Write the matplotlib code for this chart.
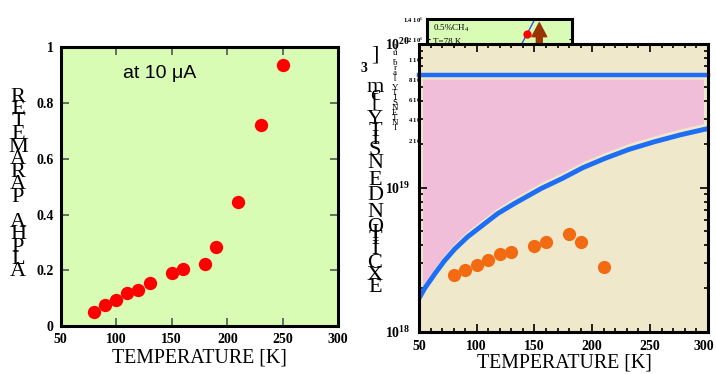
import matplotlib
matplotlib.use("Agg")
import matplotlib.pyplot as plt
from matplotlib.patches import Rectangle
from matplotlib.transforms import ScaledTranslation
from matplotlib.ticker import MultipleLocator, LogLocator, NullFormatter

plt.rcParams['font.family'] = ['Liberation Serif', 'DejaVu Serif']
plt.rcParams['mathtext.fontset'] = 'custom'
plt.rcParams['mathtext.rm'] = 'Liberation Serif'
plt.rcParams['mathtext.bf'] = 'Liberation Serif:bold'
plt.rcParams['mathtext.it'] = 'Liberation Serif:italic'

# ---------------- data ----------------
# left panel: alpha parameter vs temperature
temp_alpha = [80, 90, 100, 110, 120, 130, 150, 160, 180, 190, 210, 230, 250]
alpha = [0.050, 0.075, 0.095, 0.118, 0.128, 0.155, 0.190, 0.205, 0.222, 0.285, 0.445, 0.720, 0.935]

# right panel: exciton density vs temperature
temp_exc = [80, 90, 100, 110, 120, 130, 150, 160, 180, 190, 210]
exc_density = [2.48e18, 2.68e18, 2.90e18, 3.14e18, 3.46e18, 3.57e18, 3.95e18, 4.20e18, 4.77e18, 4.22e18, 2.80e18]

# boundary curve (blue) and upper limit line
temp_curve = [50, 55, 64, 72, 81, 92, 104, 118, 133, 156, 174, 192, 211, 232, 254, 276, 300]
curve_density = [1.70e18, 2.00e18, 2.54e18, 3.10e18, 3.75e18, 4.55e18, 5.40e18, 6.60e18, 7.80e18,
                 9.90e18, 1.16e19, 1.38e19, 1.60e19, 1.85e19, 2.09e19, 2.33e19, 2.58e19]
upper_density = 6.1e19
pink_top = 5.7e19

x_ticks = [50, 100, 150, 200, 250, 300]
alpha_ticks = [0, 0.2, 0.4, 0.6, 0.8, 1]
alpha_tick_labels = ['0', '0.2', '0.4', '0.6', '0.8', '1']
dens_ticks = [1e18, 1e19, 1e20]
dens_tick_labels = [r'$\mathbf{10^{18}}$', r'$\mathbf{10^{19}}$', r'$\mathbf{10^{20}}$']

# inset (spectrum snippet)
inset_ticks = [2e5, 4e5, 6e5, 8e5, 1e6, 1.2e6, 1.4e6]
inset_tick_labels = ['2 10$^5$', '4 10$^5$', '6 10$^5$', '8 10$^5$', '1 10$^6$', '1.2 10$^6$', '1.4 10$^6$']
inset_line_x = [0.60, 0.76]
inset_line_y = [1.005e6, 1.441e6]
inset_dot = (0.69, 1.251e6)
inset_arrow_x = 0.775
inset_arrow_y = (0.95e6, 1.363e6)

W, H = 716, 374
fig = plt.figure(figsize=(W / 100, H / 100), dpi=100)

def fx(px):
    return px / W

def fy(py):
    return 1 - py / H

GREEN = '#D9FCB5'
TAN = '#EFE8CA'
PINK = '#F0BED8'
BLUE = '#1E6EF5'
ORANGE = '#F26B12'

tick_font = dict(fontsize=10, fontweight='bold')

# ---------------- left panel ----------------
ax1 = fig.add_axes([fx(60.7), fy(326), fx(338.3) - fx(60.7), (326 - 47.3) / H])
ax1.set_facecolor(GREEN)
ax1.plot(temp_alpha, alpha, 'o', color='#FF0000', ms=9.6, mec='none', zorder=3)
ax1.set_xlim(50, 300)
ax1.set_ylim(0, 1)
ax1.set_xticks(x_ticks)
ax1.set_xticklabels([str(v) for v in x_ticks], **tick_font)
ax1.set_yticks(alpha_ticks)
ax1.set_yticklabels(alpha_tick_labels, **tick_font)
ax1.tick_params(direction='in', top=True, right=True, length=6, width=1.2,
                color='#555555', pad=5)
for s in ax1.spines.values():
    s.set_linewidth(2.2)
fig.text(fx(123), fy(73), 'at 10 \u03bcA', family='Liberation Sans', fontsize=14,
         ha='left', va='center')

fig.text(fx(199), fy(358), 'TEMPERATURE [K]', fontsize=14.3, ha='center', va='center')
left_letters = list('RETEMARAP AHPLA')
for i, ch in enumerate(left_letters):
    fig.text(fx(18), fy(97 + 12.5 * i), ch, fontsize=16, ha='center', va='center')

# ---------------- inset ----------------
axi = fig.add_axes([fx(426.7), fy(160), fx(572) - fx(426.7), (160 - 19) / H])
axi.set_zorder(1)
axi.set_facecolor(GREEN)
axi.set_xlim(0, 1)
axi.set_ylim(0, 1.4e6)
axi.set_xticks([])
axi.set_yticks(inset_ticks)
axi.set_yticklabels(inset_tick_labels, fontsize=4.8, fontweight='bold')
axi.tick_params(direction='in', left=True, right=True, length=2.5, width=0.8, pad=2)
for s in axi.spines.values():
    s.set_linewidth(2.2)
axi.plot(inset_line_x, inset_line_y, color='#3355DD', lw=1)
axi.plot([inset_dot[0]], [inset_dot[1]], 'o', color='#FF0000', ms=6, mec='none')
axi.annotate('', xy=(inset_arrow_x, inset_arrow_y[1]), xytext=(inset_arrow_x, inset_arrow_y[0]),
             arrowprops=dict(arrowstyle='simple,head_length=0.95,head_width=1.0,tail_width=0.4',
                             color='#993300', mutation_scale=10.6, shrinkA=0, shrinkB=0))
axi.text(0.041, 1.311e6, '0.5%CH$_4$', fontsize=6.5, ha='left', va='center')
axi.text(0.041, 1.175e6, 'T=78 K', fontsize=6.5, ha='left', va='center')

inset_letters = list(']u.bra[ YTISNETNI')
for i, ch in enumerate(inset_letters):
    fig.text(fx(395), fy(48 + 5.0 * i), ch, fontsize=6.5, ha='center', va='center')

# ---------------- right main panel ----------------
ax2 = fig.add_axes([fx(419), fy(331.5), fx(707.7) - fx(419), 287.5 / H])
ax2.set_zorder(2)
ax2.set_facecolor(TAN)
ax2.set_yscale('log')
ax2.set_xlim(50, 300)
ax2.set_ylim(1e18, 1e20)

pink = ax2.fill_between(temp_curve, [v * 1.1 for v in curve_density], pink_top,
                        color=PINK, lw=0, zorder=1)
clip = Rectangle((53.5, 1e17), 295.7 - 53.5, pink_top - 1e17, transform=ax2.transData)
pink.set_clip_path(clip)
ax2.axhline(upper_density, color=BLUE, lw=3.2, zorder=2, clip_on=False)
ax2.plot(temp_curve, curve_density, color=BLUE, lw=3.5, zorder=2, solid_joinstyle='round')
ax2.plot(temp_exc, exc_density, 'o', color=ORANGE, ms=9.5, mec='none', zorder=3)

ax2.set_xticks(x_ticks)
ax2.set_xticklabels([str(v) for v in x_ticks], **tick_font)
ax2.xaxis.set_minor_locator(MultipleLocator(10))
ax2.set_yticks(dens_ticks)
ax2.set_yticklabels(dens_tick_labels, fontsize=10)
ax2.yaxis.set_minor_locator(LogLocator(base=10, subs=range(2, 10)))
ax2.yaxis.set_minor_formatter(NullFormatter())
ax2.tick_params(which='both', direction='in', top=True, right=True, width=1.2, pad=6)
ax2.tick_params(which='major', length=6)
ax2.tick_params(which='minor', length=3)
for s in ax2.spines.values():
    s.set_linewidth(2.2)
last_lab = ax2.xaxis.get_major_ticks()[-1].label1
last_lab.set_transform(last_lab.get_transform() + ScaledTranslation(-0.04, 0, fig.dpi_scale_trans))

fig.text(fx(564), fy(362.7), 'TEMPERATURE [K]', fontsize=14.3, ha='center', va='center')

right_letters = [(']', 55), ('m', 88), ('c', 96), ('[', 102), ('Y', 120), ('T', 131),
                 ('I', 140), ('S', 150), ('N', 164), ('E', 181), ('D', 195), ('N', 213),
                 ('O', 227), ('I', 234), ('T', 240), ('I', 249), ('C', 263), ('X', 275),
                 ('E', 287)]
for ch, yy in right_letters:
    fig.text(fx(375), fy(yy), ch, fontsize=16, ha='center', va='center')
fig.text(fx(364), fy(68), '3', fontsize=10, fontweight='bold', ha='center', va='center')

fig.savefig('out.png', dpi=100)
